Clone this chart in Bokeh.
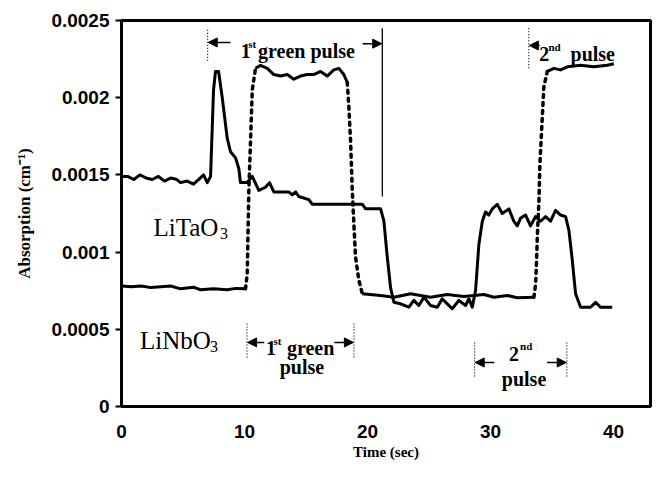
from bokeh.plotting import figure
from bokeh.models import Range1d, FixedTicker, Arrow, NormalHead, Label
from bokeh.embed import file_html
from bokeh.resources import INLINE

# ---------------- data ----------------
# LiTaO3 absorption trace (time in s, absorption in cm^-1)
ta_t = [0, 0.5, 1.0, 1.5, 2.0, 2.5, 3.0, 3.5, 4.0, 4.5, 4.8, 5.34, 5.85, 6.26, 6.67, 6.97,
        7.24, 7.48, 7.64, 7.89, 8.19, 8.59, 8.86, 9.27, 9.54, 9.67, 10.2, 10.63, 11.16, 11.7,
        12.03, 12.38, 13.6, 13.88, 14.15, 14.41, 15.23, 15.5, 19.57, 19.84, 21.06, 21.33, 21.6,
        21.87, 22.14, 22.68, 23.36, 23.76, 24.17, 24.58, 25.12, 25.67, 26.07, 26.48, 26.89,
        27.42, 27.97, 28.24, 28.51, 28.78, 29.05, 29.33, 29.59, 29.86, 30.14, 30.54, 30.95,
        31.49, 31.89, 32.17, 32.44, 32.85, 33.25, 33.66, 34.07, 34.47, 34.88, 35.28, 35.69,
        36.1, 36.37, 36.64, 36.91, 37.32, 38.13, 38.54, 38.94, 39.89]
ta_v = [0.00149, 0.00149, 0.00147, 0.00150, 0.00148, 0.00147, 0.00149, 0.00146, 0.00148, 0.00147,
        0.00145, 0.00146, 0.00144, 0.00147, 0.00150, 0.00145, 0.00149, 0.00205, 0.00217, 0.00217,
        0.00200, 0.00174, 0.00165, 0.00161, 0.00154, 0.00145, 0.00145, 0.00149, 0.00140, 0.00142,
        0.00145, 0.00139, 0.00139, 0.00137, 0.00139, 0.00136, 0.00134, 0.00131, 0.00131, 0.00128,
        0.00128, 0.00120, 0.00097, 0.00077, 0.000675, 0.000665, 0.000643, 0.000687, 0.000654,
        0.000708, 0.000654, 0.000643, 0.000698, 0.000665, 0.000633, 0.000687, 0.000654, 0.000698,
        0.000643, 0.000751, 0.00105, 0.00120, 0.00126, 0.00124, 0.00128, 0.00131, 0.00125,
        0.00128, 0.00120, 0.00117, 0.00122, 0.00124, 0.00117, 0.00123, 0.00120, 0.00123,
        0.00120, 0.00127, 0.00124, 0.00123, 0.00114, 0.00095, 0.00073, 0.000643, 0.000643,
        0.000675, 0.000643, 0.000643]

# LiNbO3 absorption trace
nb_t = [0, 0.8, 1.6, 2.4, 3.2, 4.0, 4.8, 5.85, 6.42, 7.48, 8.59, 9.3, 10.08,
        10.22, 10.35, 10.63, 10.89,
        11.3, 11.85, 12.38, 12.93, 13.47, 14.01, 14.55, 15.1, 15.63, 16.18, 16.72, 17.26, 17.67,
        18.07, 18.35,
        18.48, 18.62, 18.76, 18.89, 19.02, 19.29, 19.57,
        21.06, 22.14, 23.5, 25.12, 26.48, 27.83, 29.46, 30.27, 31.36, 32.17, 33.52,
        33.66, 33.74, 33.8, 33.93, 34.01, 34.33, 34.47, 34.61,
        35.15, 35.69, 36.24, 37.32, 38.37, 39.49, 40.02]
nb_v = [0.00078, 0.000775, 0.00078, 0.00077, 0.000775, 0.00078, 0.000762, 0.000773, 0.000756,
        0.000762, 0.000756, 0.000765, 0.000762,
        0.00086, 0.00140, 0.00205, 0.00219,
        0.00221, 0.00219, 0.00215, 0.00214, 0.00215, 0.00212, 0.00214, 0.00215, 0.00215, 0.00217,
        0.00214, 0.00218, 0.00219, 0.00215, 0.00210,
        0.00194, 0.00172, 0.00140, 0.00118, 0.00097, 0.00082, 0.00073,
        0.000719, 0.000708, 0.00073, 0.000708, 0.000725, 0.000712, 0.000725, 0.000708, 0.000719,
        0.000704, 0.000708,
        0.00079, 0.00095, 0.00110, 0.00133, 0.00157, 0.00207, 0.00212, 0.00217,
        0.00219, 0.00218, 0.00220, 0.00221, 0.00220, 0.00221, 0.00222]
# line style of each segment between consecutive LiNbO3 points
nb_style = (["solid"] * 12 + ["dotted"] * 4 + ["solid"] * 15 + ["dotted"] * 7 +
            ["solid"] * 11 + ["dotted"] * 8 + ["solid"] * 7)

x_ticks = [0, 10, 20, 30, 40]
y_ticks = [0, 0.0005, 0.001, 0.0015, 0.002, 0.0025]
y_tick_labels = ["0", "0.0005", "0.001", "0.0015", "0.002", "0.0025"]

assert len(ta_t) == len(ta_v)
assert len(nb_t) == len(nb_v) == len(nb_style) + 1

SERIF = "Liberation Serif"
SANS = "Liberation Sans"

p = figure(width=652, height=467, x_range=Range1d(0, 43.0), y_range=Range1d(0, 0.0025),
           output_backend="svg", toolbar_location=None,
           min_border_left=121, min_border_right=2, min_border_top=20, min_border_bottom=61)
p.background_fill_color = "white"
p.border_fill_color = "white"
p.outline_line_color = "black"
p.outline_line_width = 3
p.grid.visible = False

# axes
p.xaxis.ticker = FixedTicker(ticks=x_ticks)
p.yaxis.ticker = FixedTicker(ticks=y_ticks)
p.yaxis.major_label_overrides = {v: s for v, s in zip(y_ticks, y_tick_labels)}
for ax in (p.xaxis, p.yaxis):
    ax.axis_line_color = None
    ax.minor_tick_line_color = None
    ax.major_label_text_font = SANS
    ax.major_label_text_font_style = "bold"
    ax.major_label_text_font_size = "19px"
    ax.major_label_text_color = "black"
    ax.axis_label_text_font = SERIF
    ax.axis_label_text_font_style = "bold"
    ax.axis_label_text_color = "black"
p.xaxis.major_tick_line_color = None
p.xaxis.major_tick_out = 0
p.xaxis.major_tick_in = 0
p.xaxis.major_label_standoff = 18
p.xaxis.axis_label = "Time (sec)"
p.xaxis.axis_label_text_font_size = "15px"
p.xaxis.axis_label_standoff = 3
p.yaxis.major_tick_line_color = "black"
p.yaxis.major_tick_line_width = 2
p.yaxis.major_tick_out = 6
p.yaxis.major_tick_in = 0
p.yaxis.major_label_standoff = 6
p.yaxis.axis_label = "Absorption (cm\u207b\u00b9)"
p.yaxis.axis_label_text_font_size = "17px"
p.yaxis.axis_label_standoff = 14

# LiTaO3 curve
p.line(ta_t, ta_v, line_color="black", line_width=3, line_join="round")

# LiNbO3 curve: solid plateaus, dotted transitions
runs = []
start = 0
for i in range(1, len(nb_style) + 1):
    if i == len(nb_style) or nb_style[i] != nb_style[start]:
        runs.append((start, i, nb_style[start]))
        start = i
for a, b, style in runs:
    xs = nb_t[a:b + 1]
    ys = nb_v[a:b + 1]
    if style == "solid":
        p.line(xs, ys, line_color="black", line_width=3, line_join="round")
    else:
        p.line(xs, ys, line_color="black", line_width=3.5, line_dash="3 5", line_cap="round")

# ---------------- annotations ----------------
def vline(x, y0, y1, dash="1 2", width=1.2):
    p.segment(x0=[x], y0=[y0], x1=[x], y1=[y1], line_color="black",
              line_width=width, line_dash=dash)

def arrow(x0, x1, y):
    p.add_layout(Arrow(end=NormalHead(size=9, fill_color="black", line_color="black"),
                       x_start=x0, y_start=y, x_end=x1, y_end=y,
                       line_color="black", line_width=1.5))

def label(x, y, text, size, bold=True, font=SERIF, align="left"):
    p.add_layout(Label(x=x, y=y, text=text, text_font=font, text_font_size=size,
                       text_font_style="bold" if bold else "normal", text_color="black",
                       text_align=align, text_baseline="alphabetic"))

# top: 1st green pulse (LiTaO3)
vline(7.0, 0.00244, 0.00224)
vline(21.2, 0.00245, 0.00136, dash="solid", width=1.3)
arrow(8.85, 7.05, 0.002358)
arrow(19.6, 21.15, 0.00235)
label(9.7, 0.0023, "1", "20px")
label(10.3, 0.00235, "st", "11px")
label(11.1, 0.0023, "green pulse", "20px")

# top: 2nd pulse (LiNbO3)
vline(33.1, 0.00245, 0.00219)
arrow(34.0, 33.15, 0.002338)
label(33.95, 0.00228, "2", "20px")
label(34.7, 0.00233, "nd", "11px")
label(36.5, 0.00228, "pulse", "20px")

# bottom: 1st green pulse (LiNbO3)
vline(10.2, 0.000538, 0.000311)
vline(18.9, 0.000538, 0.000311)
arrow(11.6, 10.25, 0.000415)
arrow(17.3, 18.85, 0.000415)
label(11.75, 0.000382, "1", "20px")
label(12.35, 0.000427, "st", "11px")
label(13.45, 0.000382, "green", "20px")
label(14.67, 0.000259, "pulse", "20px", align="center")

# bottom: 2nd pulse (LiTaO3)
vline(28.7, 0.000415, 0.000181)
vline(36.2, 0.000415, 0.000181)
arrow(30.3, 28.75, 0.000285)
arrow(34.6, 36.15, 0.000285)
label(31.5, 0.000343, "2", "20px")
label(32.4, 0.000395, "nd", "11px")
label(32.72, 0.000181, "pulse", "20px", align="center")

# sample labels
label(2.6, 0.00116, "LiTaO", "25px", bold=False)
label(8.0, 0.00112, "3", "16px", bold=False)
label(1.5, 0.00043, "LiNbO", "25px", bold=False)
label(7.2, 0.00039, "3", "16px", bold=False)

open("out.html", "w").write(file_html(p, INLINE))
